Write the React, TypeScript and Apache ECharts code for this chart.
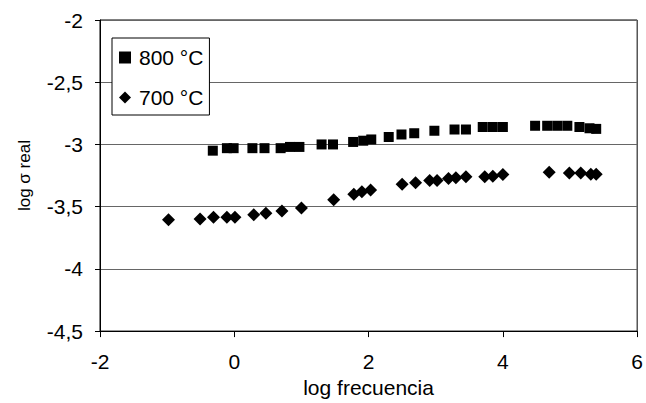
import React, { useEffect, useRef } from "react";
import * as echarts from "echarts";

const s800x = [-0.32, -0.11, -0.01, 0.27, 0.45, 0.69, 0.83, 0.97, 1.3, 1.47, 1.77, 1.92, 2.04, 2.3, 2.49, 2.68, 2.98, 3.28, 3.45, 3.7, 3.85, 4.0, 4.48, 4.66, 4.81, 4.96, 5.14, 5.29, 5.39];
const s800y = [-3.05, -3.03, -3.03, -3.03, -3.03, -3.03, -3.02, -3.02, -3.0, -3.0, -2.98, -2.97, -2.96, -2.94, -2.92, -2.91, -2.89, -2.88, -2.88, -2.86, -2.86, -2.86, -2.85, -2.85, -2.85, -2.85, -2.86, -2.87, -2.875];
const s700x = [-0.98, -0.51, -0.31, -0.11, 0.01, 0.29, 0.47, 0.71, 1.0, 1.48, 1.78, 1.9, 2.03, 2.5, 2.7, 2.91, 3.02, 3.19, 3.3, 3.45, 3.73, 3.85, 4.0, 4.69, 4.99, 5.16, 5.31, 5.39];
const s700y = [-3.605, -3.6, -3.585, -3.585, -3.585, -3.565, -3.553, -3.535, -3.51, -3.445, -3.4, -3.38, -3.366, -3.32, -3.307, -3.29, -3.29, -3.273, -3.268, -3.26, -3.26, -3.255, -3.242, -3.224, -3.23, -3.23, -3.24, -3.24];
const seriesNames = ["800 °C", "700 °C"];
const xTitle = "log frecuencia";
const yTitle = "log σ real";

const FONT = "'Liberation Sans', Arial, sans-serif";

export default function App() {
  const ref = useRef<HTMLDivElement>(null);
  useEffect(() => {
    if (!ref.current) return;
    const chart = echarts.init(ref.current, undefined, { renderer: "svg" });
    const fmt = (v: number) => String(v).replace(".", ",");
    chart.setOption({
      animation: false,
      backgroundColor: "#fff",
      textStyle: { fontFamily: FONT, color: "#000" },
      grid: {
        left: 100,
        top: 20,
        right: 8,
        bottom: 61,
        show: true,
        borderColor: "#000",
        borderWidth: 1,
        backgroundColor: "transparent",
      },
      legend: {
        orient: "vertical",
        left: 112,
        top: 38,
        padding: [9, 6, 7, 7],
        itemGap: 19,
        itemWidth: 12,
        itemHeight: 12,
        backgroundColor: "#fff",
        borderColor: "#000",
        borderWidth: 1,
        textStyle: { fontFamily: FONT, fontSize: 21, lineHeight: 21, color: "#000", padding: [0, 0, 0, 3] },
        data: [
          { name: seriesNames[0], icon: "rect" },
          { name: seriesNames[1], icon: "diamond" },
        ],
      },
      xAxis: {
        type: "value",
        min: -2,
        max: 6,
        interval: 2,
        name: xTitle,
        nameLocation: "middle",
        nameGap: 44,
        nameTextStyle: { fontFamily: FONT, fontSize: 21, color: "#000" },
        axisLine: { show: true, onZero: false, lineStyle: { color: "#000", width: 1 } },
        axisTick: { show: true, length: 6, lineStyle: { color: "#000" } },
        axisLabel: { fontFamily: FONT, fontSize: 21, color: "#000", margin: 20, formatter: fmt },
        splitLine: { show: false },
      },
      yAxis: {
        type: "value",
        min: -4.5,
        max: -2,
        interval: 0.5,
        name: yTitle,
        nameLocation: "middle",
        nameGap: 67,
        nameTextStyle: { fontFamily: FONT, fontSize: 17, color: "#000" },
        axisLine: { show: true, onZero: false, lineStyle: { color: "#000", width: 1 } },
        axisTick: { show: true, length: 5, lineStyle: { color: "#000" } },
        axisLabel: { fontFamily: FONT, fontSize: 21, color: "#000", margin: 17, formatter: fmt },
        splitLine: { show: true, lineStyle: { color: "#666", width: 1 } },
      },
      series: [
        {
          name: seriesNames[0],
          type: "scatter",
          symbol: "rect",
          symbolSize: 10,
          itemStyle: { color: "#000", opacity: 1 },
          data: s800x.map((x, i) => [x, s800y[i]]),
        },
        {
          name: seriesNames[1],
          type: "scatter",
          symbol: "diamond",
          symbolSize: 13,
          itemStyle: { color: "#000", opacity: 1 },
          data: s700x.map((x, i) => [x, s700y[i]]),
        },
      ],
    });
    return () => chart.dispose();
  }, []);
  return (
    <div
      ref={ref}
      style={{ position: "fixed", left: 0, top: 0, width: 646, height: 403, background: "#fff" }}
    />
  );
}
